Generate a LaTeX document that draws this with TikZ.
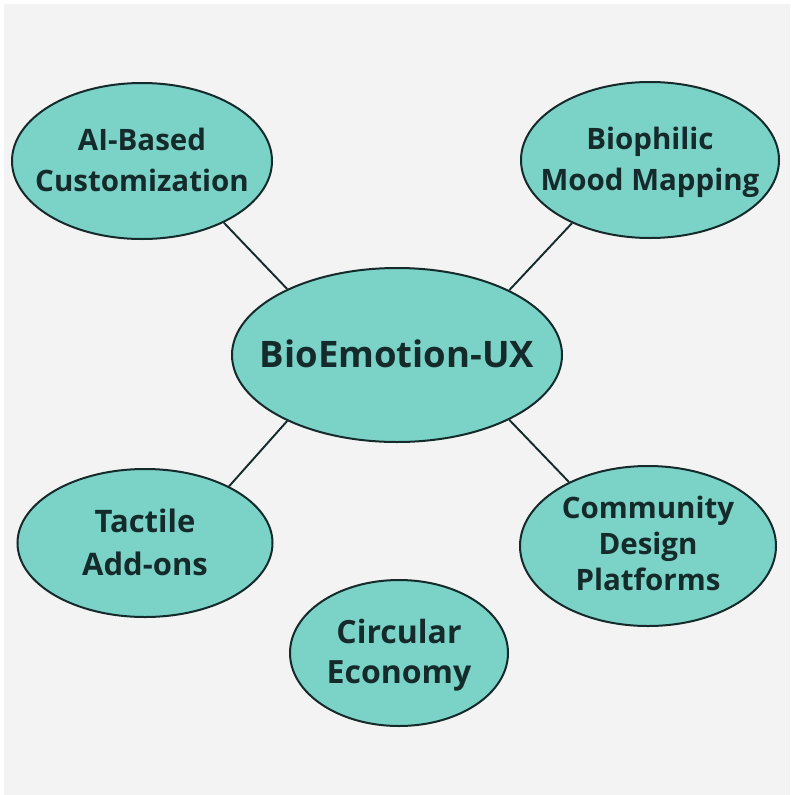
\documentclass[tikz,border=0pt]{standalone}
\usepackage{fontspec}
\setmainfont{Open Sans}
\usetikzlibrary{shapes.geometric}
\definecolor{bgc}{HTML}{F3F3F3}
\definecolor{tealfill}{HTML}{7BD3C8}
\definecolor{inkc}{HTML}{152A2A}
\newcommand\ctxt[1]{\smash{\makebox[0pt]{\raisebox{-0.27em}{\begin{tabular}{@{}c@{}}#1\end{tabular}}}}}
\tikzset{
  bub/.style={ellipse, draw=inkc, line width=2pt, fill=tealfill, text=inkc, inner sep=0pt,
    font=\fontsize{29.5}{41}\selectfont\bfseries},
  link/.style={draw=inkc, line width=1.9pt}
}
\begin{document}
\begin{tikzpicture}[x=1pt,y=-1pt]
\useasboundingbox (0,0) rectangle (790,795);
\fill[white] (0,0) rectangle (790,795);
\fill[bgc] (4,4) rectangle (790,795);
\node[bub, minimum width=330, minimum height=174, font=\fontsize{36.5}{42}\selectfont\bfseries] (c) at (397,355) {\ctxt{BioEmotion-UX}};
\node[bub, minimum width=260, minimum height=156] (ai) at (142,161) {\ctxt{AI-Based\\Customization}};
\node[bub, minimum width=258, minimum height=156] (bio) at (650,160) {\ctxt{Biophilic\\Mood Mapping}};
\node[bub, minimum width=255, minimum height=148, font=\fontsize{31}{43}\selectfont\bfseries] (tac) at (145,543) {\ctxt{Tactile\\Add-ons}};
\node[bub, minimum width=256, minimum height=160, font=\fontsize{29.5}{36}\selectfont\bfseries] (com) at (648,546) {\ctxt{Community\\Design\\Platforms}};
\node[bub, minimum width=218, minimum height=146, font=\fontsize{32}{40}\selectfont\bfseries] (cir) at (399,653) {\ctxt{Circular\\Economy}};
\draw[link] (ai.-37) -- (c.149);
\draw[link] (bio.219) -- (c.30);
\draw[link] (tac.34) -- (c.211);
\draw[link] (com.141) -- (c.-30);
\end{tikzpicture}
\end{document}
